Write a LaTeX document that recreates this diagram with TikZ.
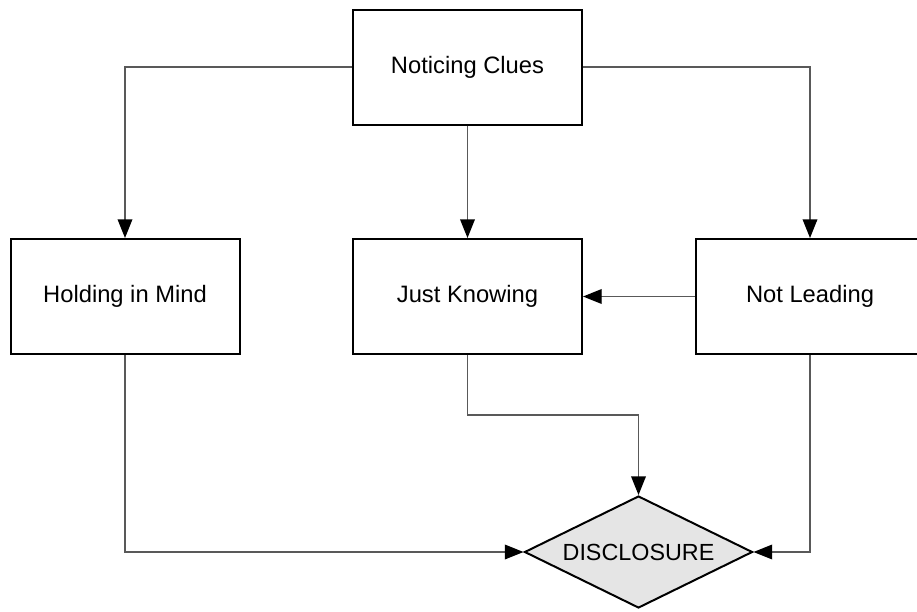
\documentclass[tikz,border=0pt]{standalone}
\usepackage{fontspec}
\setmainfont{Liberation Sans}
\usetikzlibrary{shapes.geometric,arrows.meta}

\tikzset{
  stepbox/.style={draw=black, line width=1.5pt, fill=white, rectangle,
    minimum width=171.75pt, minimum height=86.25pt, inner sep=0pt,
    font=\fontsize{17.8pt}{20pt}\selectfont},
  decision/.style={draw=black, line width=1.5pt, fill=black!10, diamond,
    shape aspect=2.04, minimum width=171pt, minimum height=84pt, inner sep=0pt,
    font=\fontsize{17.5pt}{20pt}\selectfont},
  link/.style={draw=black!65, line width=1pt,
    -{Triangle[length=14pt,width=11pt,fill=black,color=black]}},
}

\begin{document}
\begin{tikzpicture}[x=0.75pt, y=-0.75pt]
  % page frame, cuts the right-hand box at the edge
  \clip (0,0) rectangle (917,611);
  \fill[white] (0,0) rectangle (917,611);

  \node[stepbox] (clues)   at (467.5, 67)    {Noticing Clues};
  \node[stepbox] (holding) at (125, 296.5)   {Holding in Mind};
  \node[stepbox] (knowing) at (467.5, 296.5) {Just Knowing};
  \node[stepbox] (leading) at (810, 296.5)   {Not Leading};
  \node[decision] (disc)   at (638.5, 552)   {DISCLOSURE};

  \coordinate (kbend) at (467.5, 415);

  \draw[link] (clues.west) -| (holding.north);
  \draw[link] (clues.south) -- (knowing.north);
  \draw[link] (clues.east) -| (leading.north);
  \draw[link] (leading.west) -- (knowing.east);
  \draw[link] (knowing.south) -- (kbend) -| (disc.north);
  \draw[link] (holding.south) |- (disc.west);
  \draw[link] (leading.south) |- (disc.east);
\end{tikzpicture}
\end{document}
